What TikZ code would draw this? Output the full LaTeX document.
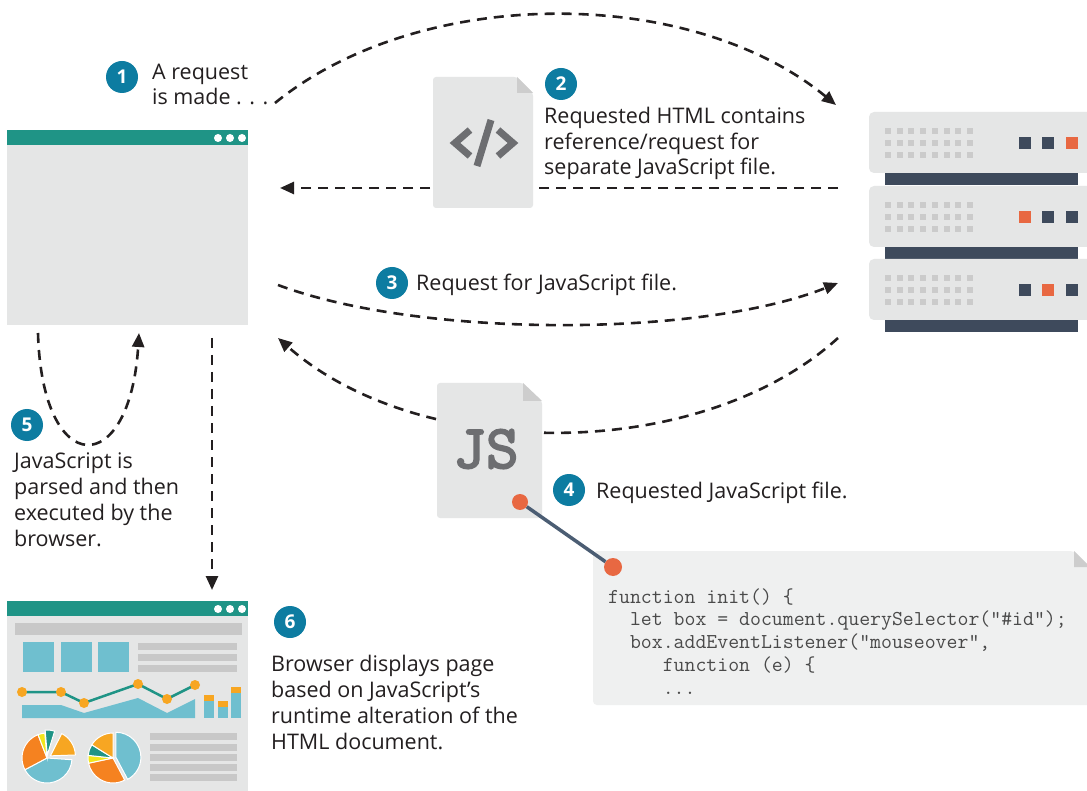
\documentclass[tikz,border=0pt]{standalone}
\usepackage{fontspec}
\setmainfont{Open Sans}
\newfontfamily\jsfont[FakeBold=3]{lmmono10-regular.otf}
\usetikzlibrary{arrows.meta}

\definecolor{ink}{HTML}{231F20}
\definecolor{badgeblue}{HTML}{0D7CA1}
\definecolor{barteal}{HTML}{1F9486}
\definecolor{paper}{HTML}{E5E6E6}
\definecolor{fold}{HTML}{CDCDCD}
\definecolor{glyph}{HTML}{6D6E71}
\definecolor{rack}{HTML}{3E4A5C}
\definecolor{led}{HTML}{E86842}
\definecolor{vent}{HTML}{CBCBCB}
\definecolor{codebg}{HTML}{EFF0F0}
\definecolor{codetxt}{HTML}{4A4A4A}
\definecolor{wire}{HTML}{4B5D73}
\definecolor{chblue}{HTML}{6FBFCF}
\definecolor{chorange}{HTML}{F58220}
\definecolor{chgold}{HTML}{F7A622}
\definecolor{chyellow}{HTML}{F2E51C}
\definecolor{chgrey}{HTML}{C8C8C8}

\tikzset{
  badge/.style={circle, fill=badgeblue, text=white, inner sep=0pt, minimum size=32pt,
    font=\fontsize{19}{19}\selectfont\bfseries},
  caption/.style={anchor=base west, align=left, inner sep=0pt, text=ink,
    font=\fontsize{21.5}{25.7}\selectfont},
  code/.style={anchor=base west, align=left, inner sep=0pt, text=codetxt,
    font=\ttfamily\fontsize{21.2}{22.7}\selectfont},
  flow/.style={ink, line width=2.6pt, dash pattern=on 10pt off 7pt,
    -{Triangle[length=14pt,width=12pt]}},
  window/.style={fill=paper, inner sep=0pt, anchor=north west,
    minimum width=241pt, minimum height=195pt},
  dot/.style={circle, fill=led, inner sep=0pt}
}

\begin{document}
\begin{tikzpicture}[x=1pt,y=-1pt]
  \useasboundingbox (0,0) rectangle (1087,791);
  \fill[white] (0,0) rectangle (1087,791);

  % browser before
  \node[window] (browser) at (7,130) {};
  \fill[barteal] (browser.north west) rectangle ++(241,15);
  \foreach \x in {218,230,242}
    \fill[white] (\x,138) circle[radius=4pt];

  % server rack
  \node[inner sep=0pt, anchor=north west, minimum width=218pt, minimum height=221pt] (server) at (869,112) {};
  \foreach \y/\a/\b/\c in {112/rack/rack/led, 186/led/rack/rack, 259/rack/led/rack} {
    \fill[paper, rounded corners=5pt] (869,\y) rectangle ++(235,61);
    \fill[rack] (885,\y+61) rectangle (1078,\y+73);
    \foreach \i in {0,...,7}
      \foreach \j in {0,1,2}
        \fill[vent] (885+\i*11.7,\y+16+\j*12) rectangle ++(6,6);
    \fill[\a] (1019,\y+25) rectangle ++(12,12);
    \fill[\b] (1042,\y+25) rectangle ++(12,12);
    \fill[\c] (1066,\y+25) rectangle ++(12,12);
  }

  % ends of the connectors
  \coordinate (made) at (275,103);
  \coordinate (srv1) at (836,105);
  \coordinate (srv2) at (838,188);
  \coordinate (srv3) at (838,283);
  \coordinate (srv4) at (838,338);
  \coordinate (brw2) at (280,188);
  \coordinate (brw3) at (278,285);
  \coordinate (brw4) at (278,338);
  \coordinate (loopout) at (38,333);
  \coordinate (loopin) at (139,333);
  \coordinate (render) at (212,338);

  \draw[flow] (made) .. controls (420,-15) and (690,-15) .. (srv1);
  \draw[flow] (srv2) -- (brw2);
  \draw[flow] (brw3) .. controls (420,338) and (700,338) .. (srv3);
  \draw[flow] (srv4) .. controls (700,463) and (420,463) .. (brw4);
  \draw[flow] (loopout) .. controls (42,480) and (130,480) .. (loopin);

  % html file
  \fill[paper, rounded corners=3pt] (433,77) -- (517,77) -- (533,93) -- (533,208) -- (433,208) -- cycle;
  \fill[fold] (517,77) -- (533,93) -- (517,93) -- cycle;
  \node[inner sep=0pt, minimum size=60pt] (html) at (483,143) {};
  \draw[glyph, line width=7pt] (470,130) -- (455,143) -- (470,156);
  \draw[glyph, line width=7pt] (491,120) -- (477,166);
  \draw[glyph, line width=7pt] (498,130) -- (513,143) -- (498,156);

  % js file
  \fill[paper, rounded corners=3pt] (437,383) -- (523,383) -- (542,401) -- (542,518) -- (437,518) -- cycle;
  \fill[fold] (523,383) -- (542,401) -- (523,401) -- cycle;
  \node[text=glyph, font=\jsfont\fontsize{62}{62}\selectfont] (jsfile) at (486,449) {JS};

  % code listing
  \fill[codebg, rounded corners=4pt] (593,551) -- (1074,551) -- (1092,569) -- (1092,705) -- (593,705) -- cycle;
  \fill[fold] (1074,551) -- (1090,567) -- (1074,567) -- cycle;
  \node[dot, minimum size=16pt] (jsdot) at (520,502) {};
  \node[dot, minimum size=18pt] (codedot) at (613,567) {};
  \draw[wire, line width=3.5pt] (jsdot) -- (codedot);
  \node[code] (snippet) at (608,694) {function init() \{\\
\ \ let box = document.querySelector("\#id");\\
\ \ box.addEventListener("mouseover",\\
\ \ \ \ \ function (e) \{\\
\ \ \ \ \ ...};

  % browser after
  \draw[flow] (render) -- (212,590);
  \node[window] (page) at (7,601) {};
  \fill[barteal] (page.north west) rectangle ++(241,15);
  \foreach \x in {218,230,242}
    \fill[white] (\x,609) circle[radius=4pt];
  \fill[chgrey] (15,623) rectangle (242,635);
  \foreach \x in {23,61,98}
    \fill[chblue] (\x,642) rectangle ++(31,30);
  \foreach \y in {643,654,665}
    \fill[chgrey] (138,\y) rectangle (237,\y+7);
  \fill[chblue] (22,705) -- (61,705) -- (84,713) -- (138,698) -- (167,713) -- (195,699) -- (195,718) -- (22,718) -- cycle;
  \draw[barteal, line width=2.5pt] (22,692) -- (61,692) -- (84,703) -- (138,684) -- (167,699) -- (195,685);
  \foreach \x/\y in {22/692, 61/692, 84/703, 138/684, 167/699, 195/685}
    \fill[chgold] (\x,\y) circle[radius=5pt];
  \foreach \x/\t in {204/695, 218/701, 231/687} {
    \fill[chgold] (\x,\t) rectangle ++(10,6);
    \fill[chblue] (\x,\t+6) rectangle (\x+10,718);
  }
  \foreach \c/\a/\b/\d in {chblue/4/152/0, chorange/152/249/0, chyellow/249/265/0,
                           barteal/265/287/3, chgold/297/358/4}
    \filldraw[fill=\c, draw=white, line width=1pt, shift={({(\a+\b)/2}:\d)}]
      (47,758) -- ++(\a:25) arc[start angle=\a, end angle=\b, radius=25] -- cycle;
  \foreach \c/\a/\b/\d in {chblue/-90/62/3, chorange/62/168/0, chyellow/168/186/0,
                           barteal/186/212/0, chgold/212/270/0}
    \filldraw[fill=\c, draw=white, line width=1pt, shift={({(\a+\b)/2}:\d)}]
      (113,758) -- ++(\a:25) arc[start angle=\a, end angle=\b, radius=25] -- cycle;
  \foreach \y in {733,744,754,764,774}
    \fill[chgrey] (150,\y) rectangle (237,\y+7);

  % steps (base = last line)
  \node[badge] (n1) at (122,77) {1};
  \node[caption] (t1) at (152,105) {A request\\is made . . .};
  \node[badge] (n2) at (561,84) {2};
  \node[caption] (t2) at (544,175) {Requested HTML contains\\reference/request for\\separate JavaScript file.};
  \node[badge] (n3) at (392,283) {3};
  \node[caption] (t3) at (416,291) {Request for JavaScript file.};
  \node[badge] (n4) at (569,490) {4};
  \node[caption] (t4) at (596,498) {Requested JavaScript file.};
  \node[badge] (n5) at (27,425) {5};
  \node[caption] (t5) at (14,546) {JavaScript is\\parsed and then\\executed by the\\browser.};
  \node[badge] (n6) at (290,622) {6};
  \node[caption] (t6) at (271,749) {Browser displays page\\based on JavaScript’s\\runtime alteration of the\\HTML document.};
\end{tikzpicture}
\end{document}
